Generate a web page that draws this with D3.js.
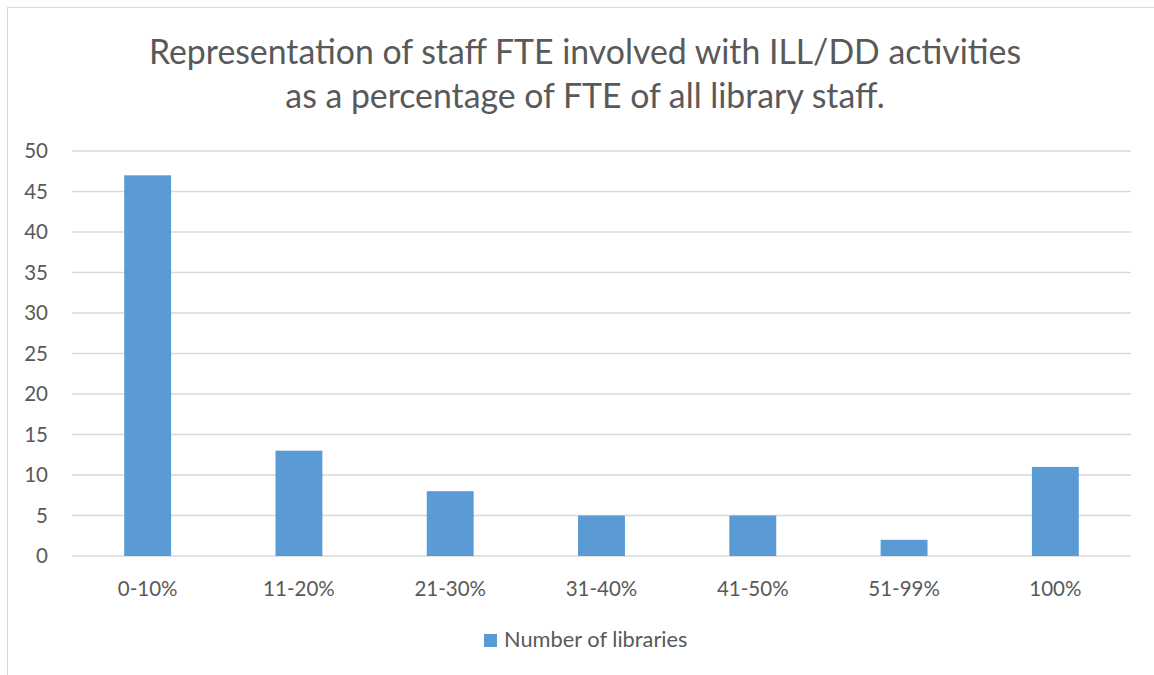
<!DOCTYPE html>
<html><head><meta charset="utf-8">
<script src="https://cdn.jsdelivr.net/npm/d3@7"></script>
<style>body{margin:0;background:#fff}svg{display:block}</style>
</head><body><svg id="c" width="1154" height="675"></svg>
<script>
const categories = ["0-10%","11-20%","21-30%","31-40%","41-50%","51-99%","100%"];
const values = [47,13,8,5,5,2,11];
const yTicks = [0,5,10,15,20,25,30,35,40,45,50];
const titleLines = ["Representation of staff FTE involved with ILL/DD activities","as a percentage of FTE of all library staff."];
const seriesName = "Number of libraries";

const svg = d3.select("#c");
const font = "Lato, sans-serif";
const textColor = "#595959";
svg.append("rect").attr("x",7.5).attr("y",7.5).attr("width",1160).attr("height",680)
  .attr("fill","#fff").attr("stroke","#d9d9d9");

const x = d3.scaleBand().domain(categories).range([72,1131]).paddingInner(0.69).paddingOuter(0.345);
const y = d3.scaleLinear().domain([0,50]).range([556,151]);

svg.append("g").selectAll("line").data(yTicks).join("line")
  .attr("x1",72).attr("x2",1131).attr("y1",d=>y(d)).attr("y2",d=>y(d))
  .attr("stroke","#d9d9d9").attr("stroke-width",1.3);

svg.append("g").selectAll("rect").data(values).join("rect")
  .attr("x",(d,i)=>x(categories[i])).attr("width",x.bandwidth())
  .attr("y",d=>y(d)).attr("height",d=>y(0)-y(d)).attr("fill","#5b9bd5");

svg.append("g").selectAll("text").data(yTicks).join("text")
  .attr("x",48).attr("y",d=>y(d)).attr("dy","0.35em").attr("text-anchor","end")
  .attr("font-family",font).attr("font-size",20.5).attr("fill",textColor).text(d=>d);

svg.append("g").selectAll("text").data(categories).join("text")
  .attr("x",d=>x(d)+x.bandwidth()/2).attr("y",596).attr("text-anchor","middle")
  .attr("font-family",font).attr("font-size",20.5).attr("fill",textColor).text(d=>d);

svg.append("g").selectAll("text").data(titleLines).join("text")
  .attr("x",585).attr("y",(d,i)=>64+i*44).attr("text-anchor","middle")
  .attr("font-family",font).attr("font-size",33.8).attr("fill",textColor).text(d=>d);

svg.append("rect").attr("x",484).attr("y",634).attr("width",13).attr("height",13).attr("fill","#5b9bd5");
svg.append("text").attr("x",504).attr("y",647).attr("font-family",font).attr("font-size",21.8)
  .attr("fill",textColor).text(seriesName);
</script></body></html>
